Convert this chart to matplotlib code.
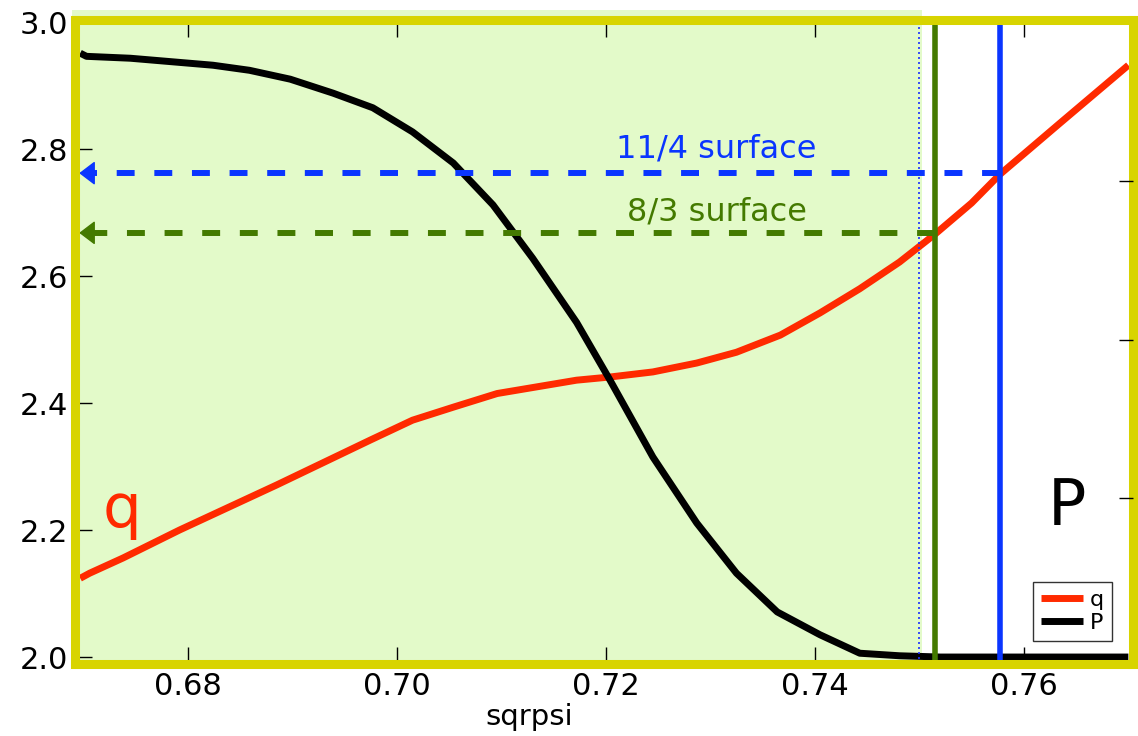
import numpy as np
import matplotlib
matplotlib.use("Agg")
import matplotlib.pyplot as plt
import matplotlib.transforms as mtransforms
from matplotlib.patches import Rectangle

# safety factor q and (scaled) pressure P against sqrt(psi)
q_x = [0.6697, 0.6706, 0.6738, 0.6792, 0.6885, 0.6975, 0.7015, 0.7055, 0.7096,
       0.7172, 0.7204, 0.7245, 0.7287, 0.7325, 0.7367, 0.7405, 0.7443, 0.7481,
       0.7515, 0.7550, 0.7577, 0.7634, 0.7700]
q_y = [2.124, 2.132, 2.156, 2.200, 2.271, 2.342, 2.373, 2.394, 2.415,
       2.436, 2.441, 2.449, 2.463, 2.480, 2.507, 2.542, 2.580, 2.622,
       2.666, 2.715, 2.760, 2.840, 2.932]

p_x = [0.6697, 0.6703, 0.6745, 0.6824, 0.6859, 0.6898, 0.6939, 0.6977, 0.7015,
       0.7054, 0.7092, 0.7130, 0.7172, 0.7204, 0.7245, 0.7287, 0.7325, 0.7364,
       0.7405, 0.7443, 0.7481, 0.7520, 0.7700]
p_y = [2.951, 2.946, 2.943, 2.932, 2.924, 2.910, 2.888, 2.865, 2.827,
       2.778, 2.712, 2.628, 2.527, 2.436, 2.315, 2.211, 2.132, 2.071,
       2.035, 2.006, 2.002, 2.000, 2.000]

# rational surfaces: (label, sqrpsi location, q value, colour)
surfaces = [("11/4 surface", 0.7577, 2.762, "#0a35ff"),
            ("8/3 surface", 0.7515, 2.668, "#447a00")]
surface_label_y = [2.787, 2.688]
pedestal_x = 0.7500   # dotted marker / end of shaded core region

xticks = [0.68, 0.70, 0.72, 0.74, 0.76]
yticks = [2.0, 2.2, 2.4, 2.6, 2.8, 3.0]
right_ticks = [2.25, 2.5, 2.75]

xlim = (0.6692, 0.7704)
ylim = (1.989, 3.004)

frame_col = "#d8d400"
shade_col = "#e3fac9"
red = "#ff2a00"

fig = plt.figure(figsize=(11.38, 7.36), dpi=100)
ax = fig.add_axes([0.0659, 0.0978, 0.9293, 0.8757])
ax.set_xlim(*xlim)
ax.set_ylim(*ylim)

# shaded core region, poking a little above the frame
trans = mtransforms.blended_transform_factory(ax.transData, ax.transAxes)
ax.add_patch(Rectangle((0.6689, 0.0), pedestal_x + 0.0003 - 0.6689, 1.014,
                       transform=trans, facecolor=shade_col, edgecolor="none",
                       clip_on=False, zorder=0.5))

ax.plot(q_x, q_y, color=red, lw=5, label="q", zorder=3, solid_capstyle="butt")
ax.plot(p_x, p_y, color="black", lw=5, label="P", zorder=3, solid_capstyle="butt")

ax.axvline(pedestal_x, color="#1a2fff", lw=1.2, ls=(0, (1.2, 1.8)), zorder=4)
for (name, xs, qs, col), ly in zip(surfaces, surface_label_y):
    ax.axvline(xs, color=col, lw=4, zorder=4)
    x_tip = xlim[0] + 0.0004
    head = 0.0013
    ax.plot([xs, x_tip + head], [qs, qs], color=col, lw=4.3,
            dashes=(3.0, 3.3), zorder=4)
    ax.annotate("", xy=(x_tip, qs), xytext=(x_tip + head, qs),
                arrowprops=dict(arrowstyle="-|>,head_length=0.5,head_width=0.38",
                                mutation_scale=20, color=col, lw=1,
                                shrinkA=0, shrinkB=0), zorder=5)
    ax.text(0.7306, ly, name, color=col, fontsize=23, ha="center", va="baseline")

ax.text(0.0444, 0.2126, "q", color=red, fontsize=44, ha="center",
        va="baseline", transform=ax.transAxes)
ax.text(0.938, 0.2157, "P", color="black", fontsize=46, ha="center",
        va="baseline", transform=ax.transAxes)

ax.set_xticks(xticks)
ax.set_xticklabels(["%.2f" % v for v in xticks])
ax.set_yticks(yticks)
ax.set_yticklabels(["%.1f" % v for v in yticks])
ax.tick_params(direction="in", length=12, width=1, labelsize=22,
               top=True, right=False, pad=6)
ax.tick_params(axis="y", pad=5)
ax.set_xlabel("sqrpsi", fontsize=21)
ax.xaxis.set_label_coords(0.4293, -0.0605)

for s in ax.spines.values():
    s.set_color(frame_col)
    s.set_linewidth(6.5)
    s.set_zorder(6)

# right-hand axis only carries unlabeled ticks
ax2 = ax.twinx()
ax2.set_ylim(*ylim)
ax2.set_yticks(right_ticks)
ax2.tick_params(direction="in", length=10, width=1, labelright=False)
for s in ax2.spines.values():
    s.set_visible(False)

leg = ax.legend(loc="lower right", bbox_to_anchor=(0.9806, 0.0357),
                fontsize=16, frameon=True, fancybox=False, handlelength=1.9,
                handletextpad=0.3, labelspacing=0.15, borderpad=0.35,
                borderaxespad=0)
leg.get_frame().set_edgecolor("black")
leg.get_frame().set_linewidth(1)
leg.set_zorder(7)

fig.savefig("out.png", dpi=100)
